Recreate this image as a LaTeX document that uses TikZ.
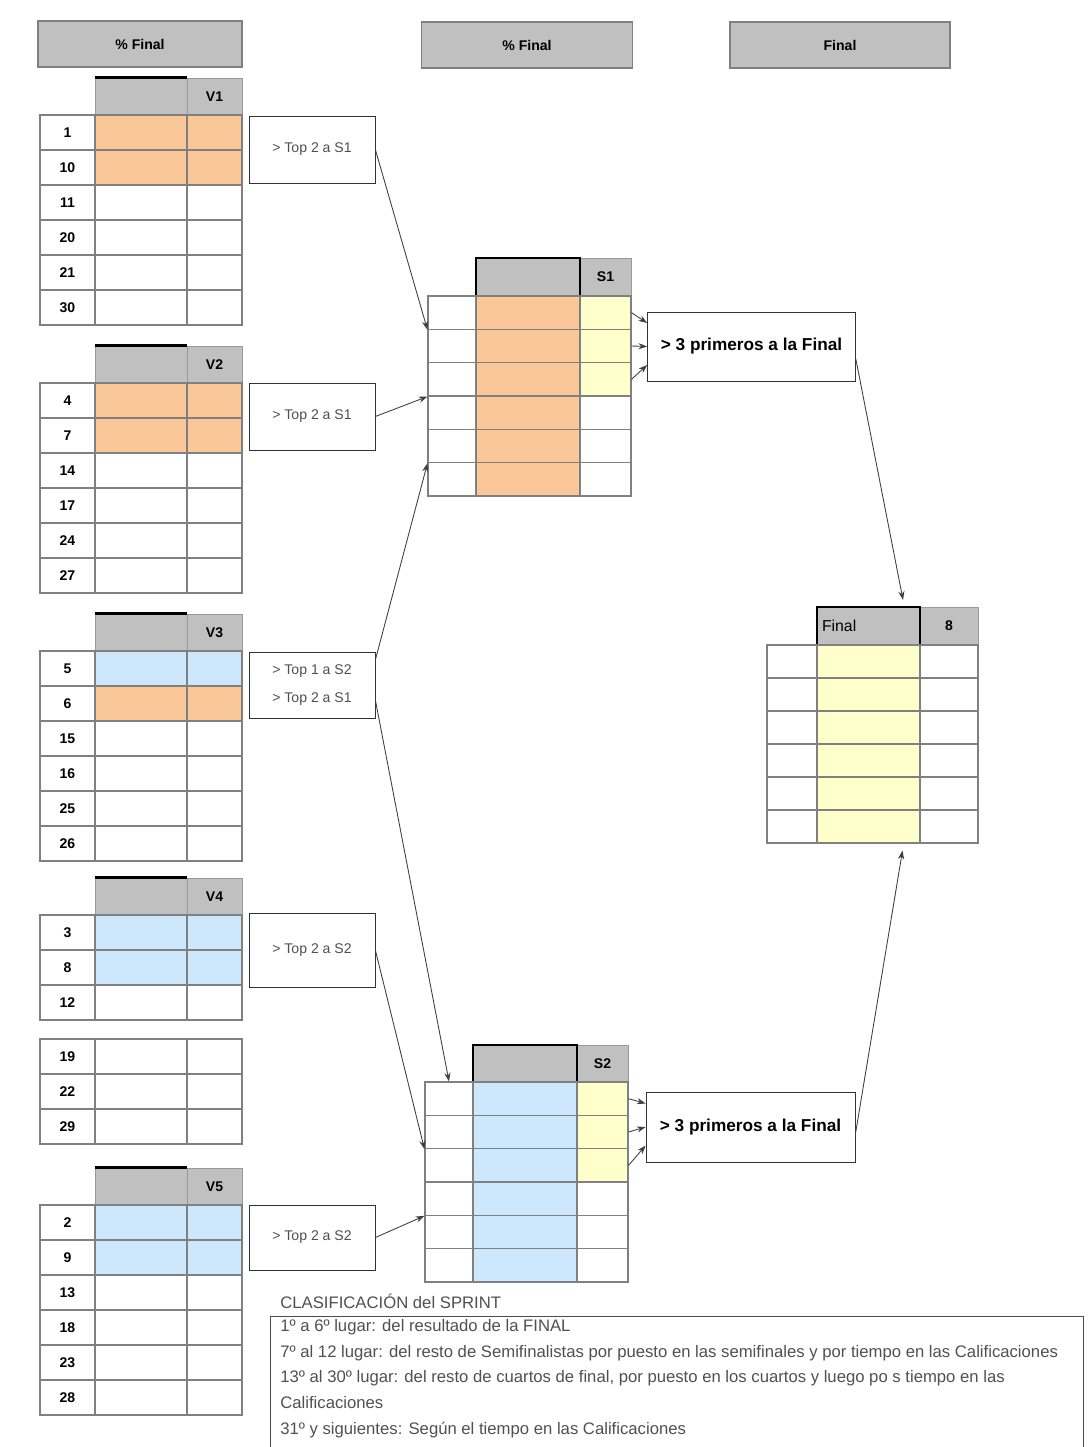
\documentclass[tikz,border=0pt]{standalone}
\usepackage{fontspec}
\setmainfont{Liberation Sans}
\usetikzlibrary{arrows.meta}
\definecolor{hgray}{RGB}{192,192,192}
\definecolor{orng}{RGB}{250,200,152}
\definecolor{lblue}{RGB}{205,232,252}
\definecolor{lyel}{RGB}{255,255,204}
\definecolor{txtgray}{RGB}{80,80,80}

\begin{document}
\begin{tikzpicture}[x=0.02cm,y=-0.02cm]
    \tikzstyle{cell}=[rectangle, draw=gray, line width=0.6pt, minimum height=0.7cm, inner sep=0pt]
    \tikzstyle{numcell}=[cell, minimum width=1.1cm, font=\fontsize{8}{9}\selectfont\bfseries]
    \tikzstyle{hdr}=[rectangle, fill=hgray, draw=gray!80, minimum height=0.74cm, inner sep=0pt, font=\fontsize{8}{9}\selectfont\bfseries]
    \tikzstyle{title}=[rectangle, fill=hgray, draw=gray, line width=0.8pt, minimum height=0.92cm, font=\fontsize{8}{9}\selectfont\bfseries]
    \tikzstyle{lbox}=[rectangle, draw=black!80, fill=white, minimum width=2.52cm, align=center, font=\fontsize{8}{16}\selectfont, text=txtgray]
    \tikzstyle{pbox}=[rectangle, draw=black!80, minimum width=4.16cm, minimum height=1.38cm, font=\fontsize{9.8}{11}\selectfont\bfseries]
    \tikzstyle{arr}=[-{Stealth[length=5pt,width=3.5pt]}, draw=black!75, line width=0.5pt]

\useasboundingbox (0,0) rectangle (1090,1447);

% titles
\node[title, minimum width=4.08cm] (t1) at (140,44) {\% Final};
\node[title, minimum width=4.22cm] (t2) at (527,45) {\% Final};
\node[title, minimum width=4.4cm] (t3) at (840,45) {Final};

% heats
\foreach \tb/\yh/\ca/\cb/\gap/\la/\lb/\lc/\ld/\le/\lf in {
  1/78/orng/orng/0/1/10/11/20/21/30,
  2/346/orng/orng/0/4/7/14/17/24/27,
  3/614/lblue/orng/0/5/6/15/16/25/26,
  4/878/lblue/lblue/19/3/8/12/19/22/29,
  5/1168/lblue/lblue/0/2/9/13/18/23/28}{
  \node[hdr, minimum width=1.84cm] (v\tb h) at (141,\yh+18.5) {};
  \draw[line width=1.5pt] (v\tb h.north west) -- (v\tb h.north east);
  \node[hdr, minimum width=1.1cm] (v\tb k) at (214.5,\yh+18.5) {V\tb};
  \foreach \r/\lab/\col in {1/\la/\ca, 2/\lb/\cb, 3/\lc/white, 4/\ld/white, 5/\le/white, 6/\lf/white}{
    \pgfmathsetmacro\yy{\yh+37+35*(\r-1)+17.5+(\r>3)*\gap}
    \node[numcell] (v\tb n\r) at (67.5,\yy) {\lab};
    \node[cell, minimum width=1.84cm, fill=\col] (v\tb a\r) at (141,\yy) {};
    \node[cell, minimum width=1.1cm, fill=\col] (v\tb b\r) at (214.5,\yy) {};
  }
}

\node[lbox, minimum height=1.34cm] (b1) at (312,149.5) {\textgreater{} Top 2 a S1};
\node[lbox, minimum height=1.34cm] (b2) at (312,416.5) {\textgreater{} Top 2 a S1};
\node[lbox, minimum height=1.32cm] (b3) at (312,685) {\textgreater{} Top 1 a S2\\ \textgreater{} Top 2 a S1};
\node[lbox, minimum height=1.48cm] (b4) at (312,950) {\textgreater{} Top 2 a S2};
\node[lbox, minimum height=1.3cm] (b5) at (312,1237.5) {\textgreater{} Top 2 a S2};

% semifinal 1
\node[hdr, minimum width=1.02cm, minimum height=0.76cm] (s1k) at (605.5,277) {S1};
\node[hdr, draw=black, line width=1.2pt, minimum width=2.08cm, minimum height=0.76cm] (s1h) at (528,277) {};
\foreach \r/\col in {1/lyel,2/lyel,3/lyel,4/white,5/white,6/white}{
  \pgfmathsetmacro\yy{296+33.33*(\r-1)+16.67}
  \node[cell, minimum height=0.667cm, minimum width=0.96cm] (s1n\r) at (452,\yy) {};
  \node[cell, minimum height=0.667cm, minimum width=2.08cm, fill=orng] (s1a\r) at (528,\yy) {};
  \node[cell, minimum height=0.667cm, minimum width=1.02cm, fill=\col] (s1c\r) at (605.5,\yy) {};
}

% semifinal 2
\node[hdr, minimum width=1.02cm, minimum height=0.74cm] (s2k) at (602.5,1063.5) {S2};
\node[hdr, draw=black, line width=1.2pt, minimum width=2.08cm, minimum height=0.74cm] (s2h) at (525,1063.5) {};
\foreach \r/\col in {1/lyel,2/lyel,3/lyel,4/white,5/white,6/white}{
  \pgfmathsetmacro\yy{1082+33.33*(\r-1)+16.67}
  \node[cell, minimum height=0.667cm, minimum width=0.96cm] (s2n\r) at (449,\yy) {};
  \node[cell, minimum height=0.667cm, minimum width=2.08cm, fill=lblue] (s2a\r) at (525,\yy) {};
  \node[cell, minimum height=0.667cm, minimum width=1.02cm, fill=\col] (s2c\r) at (602.5,\yy) {};
}

% final
\node[hdr, minimum width=1.16cm, minimum height=0.76cm] (fk) at (949,626) {8};
\node[hdr, draw=black, line width=1.2pt, minimum width=2.06cm, minimum height=0.76cm,
    text width=1.86cm, align=left, font=\fontsize{9}{10}\selectfont] (fh) at (868.5,626) {Final};
\foreach \r in {1,...,6}{
  \pgfmathsetmacro\yy{645+33*(\r-1)+16.5}
  \node[cell, minimum height=0.66cm, minimum width=1.0cm] (fn\r) at (792,\yy) {};
  \node[cell, minimum height=0.66cm, minimum width=2.06cm, fill=lyel] (fa\r) at (868.5,\yy) {};
  \node[cell, minimum height=0.66cm, minimum width=1.16cm] (fc\r) at (949,\yy) {};
}

\node[pbox] (p1) at (751.5,346.5) {\textgreater{} 3 primeros a la Final};
\node[pbox, minimum width=4.18cm, minimum height=1.4cm] (p2) at (750.5,1127) {\textgreater{} 3 primeros a la Final};

% arrows
\draw[arr] (b1.east) -- (s1n1.south west);
\draw[arr] (b2.east) -- (s1n3.south west);
\draw[arr] ([yshift=0.5cm]b3.east) -- (s1n5.south west);
\draw[arr] ([yshift=-0.3cm]b3.east) -- (s2n1.north);
\draw[arr] (b4.east) -- (s2n2.south west);
\draw[arr] (b5.east) -- (s2n4.south west);
\draw[arr] (s1c1.east) -- ([yshift=0.47cm]p1.west);
\draw[arr] (s1c2.east) -- (p1.west);
\draw[arr] (s1c3.east) -- ([yshift=-0.37cm]p1.west);
\draw[arr] (s2c1.east) -- ([yshift=0.47cm]p2.west);
\draw[arr] (s2c2.east) -- (p2.west);
\draw[arr] (s2c3.east) -- ([yshift=-0.37cm]p2.west);
\draw[arr] ([yshift=-0.25cm]p1.east) -- ([xshift=-0.36cm,yshift=0.12cm]fh.north east);
\draw[arr] ([yshift=-0.15cm]p2.east) -- ([xshift=-0.36cm,yshift=-0.14cm]fa6.south east);

% clasificacion
\node[anchor=west, inner sep=0pt, text=txtgray, font=\fontsize{9.5}{11}\selectfont] (ct) at (280,1301) {CLASIFICACIÓN del SPRINT};
\node[draw=black!70, anchor=north west, minimum width=16.26cm, minimum height=2.7cm] (nbox) at (270,1316) {};
\node[anchor=north west, align=left, inner sep=0pt, text=txtgray, font=\fontsize{9.5}{14.6}\selectfont] (nota) at (280,1319) {1º a 6º lugar: del resultado de la FINAL\\
7º al 12 lugar: del resto de Semifinalistas por puesto en las semifinales y por tiempo en las Calificaciones\\
13º al 30º lugar: del resto de cuartos de final, por puesto en los cuartos y luego po s tiempo en las\\
Calificaciones\\
31º y siguientes: Según el tiempo en las Calificaciones};

\end{tikzpicture}
\end{document}
